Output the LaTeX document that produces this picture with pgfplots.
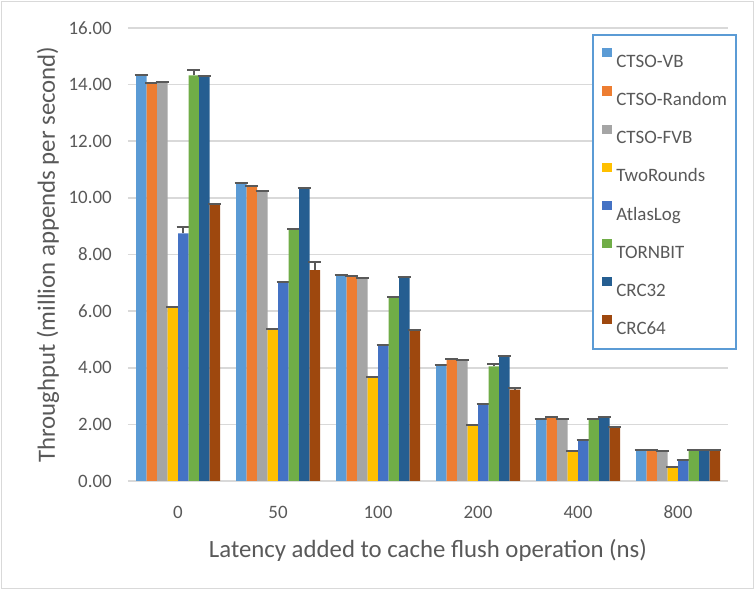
\documentclass[border=0pt]{standalone}
\usepackage{fontspec}
\setmainfont{Carlito}
\usepackage{pgfplots}
\pgfplotsset{compat=1.18}
\definecolor{c1}{HTML}{5B9BD5}
\definecolor{c2}{HTML}{ED7D31}
\definecolor{c3}{HTML}{A5A5A5}
\definecolor{c4}{HTML}{FFC000}
\definecolor{c5}{HTML}{4472C4}
\definecolor{c6}{HTML}{70AD47}
\definecolor{c7}{HTML}{255E91}
\definecolor{c8}{HTML}{9E480E}
\definecolor{txt}{HTML}{595959}
\definecolor{gridc}{HTML}{D9D9D9}
\definecolor{legblue}{HTML}{5B9BD5}
\begin{document}
\begin{tikzpicture}
\useasboundingbox (0,0) rectangle (567pt,444pt);
\draw[gridc, line width=1pt] (1.2pt,2.5pt) rectangle (565pt,442.8pt);
\begin{axis}[
  at={(96pt,83.25pt)}, anchor=south west,
  scale only axis, width=450pt, height=339.75pt,
  ybar=0pt, bar width=7.875pt,
  xmin=-0.5, xmax=5.5, ymin=0, ymax=16,
  xtick={0,...,5}, xticklabels={0,50,100,200,400,800},
  ytick={0,2,...,16},
  axis line style={draw=none},
  major tick length=0pt,
  ymajorgrids, grid style={gridc, line width=1.3pt},
  /pgf/number format/assume math mode=true,
  ticklabel style={font=\fontsize{14.2}{17}\selectfont, text=txt},
  yticklabel style={/pgf/number format/fixed, /pgf/number format/fixed zerofill, /pgf/number format/precision=2, inner sep=0pt, anchor=east, xshift=-12pt},
  xticklabel style={inner sep=0pt, anchor=north, yshift=-18.5pt},
  xlabel={Latency added to cache flush operation (ns)},
  ylabel={Throughput (million appends per second)},
  label style={font=\fontsize{18.6}{22}\selectfont, text=txt},
  xlabel style={at={(axis description cs:0.5,-0.1523)}, anchor=center},
  ylabel style={at={(axis description cs:-0.1333,0.5)}, anchor=center},
  legend style={at={(axis description cs:0.7733,0.9868)}, anchor=north west,
    draw=legblue, line width=1.5pt, fill=white, inner xsep=7pt, inner ysep=10pt,
    row sep=13.2pt,
    nodes={inner sep=0pt, font=\fontsize{14.2}{17}\selectfont, text=txt, text height=14pt, text depth=1pt},
    /tikz/every odd column/.style={column sep=3pt}},
  legend cell align=left,
  legend image code/.code={\fill[#1] (0pt,1.1pt) rectangle (7.5pt,7.9pt);},
  error bars/y dir=plus, error bars/y explicit,
  error bars/error bar style={line width=1.5pt, color=txt},
  error bars/error mark options={rotate=90, mark size=4.9pt, line width=1.5pt, color=txt},
]
\addplot[fill=c1, draw=none] coordinates {(0,14.33) +- (0,0) (1,10.53) +- (0,0) (2,7.27) +- (0,0) (3,4.08) +- (0,0) (4,2.19) +- (0,0) (5,1.11) +- (0,0)};
\addplot[fill=c2, draw=none] coordinates {(0,14.06) +- (0,0) (1,10.42) +- (0,0) (2,7.24) +- (0,0) (3,4.32) +- (0,0) (4,2.25) +- (0,0) (5,1.10) +- (0,0)};
\addplot[fill=c3, draw=none] coordinates {(0,14.09) +- (0,0) (1,10.26) +- (0,0) (2,7.18) +- (0,0) (3,4.26) +- (0,0) (4,2.19) +- (0,0) (5,1.06) +- (0,0)};
\addplot[fill=c4, draw=none] coordinates {(0,6.14) +- (0,0) (1,5.37) +- (0,0) (2,3.66) +- (0,0) (3,1.98) +- (0,0) (4,1.06) +- (0,0) (5,0.51) +- (0,0)};
\addplot[fill=c5, draw=none] coordinates {(0,8.75) +- (0,0.23) (1,7.03) +- (0,0) (2,4.82) +- (0,0) (3,2.71) +- (0,0) (4,1.45) +- (0,0) (5,0.73) +- (0,0)};
\addplot[fill=c6, draw=none] coordinates {(0,14.33) +- (0,0.2) (1,8.91) +- (0,0) (2,6.49) +- (0,0) (3,4.05) +- (0,0.09) (4,2.19) +- (0,0) (5,1.08) +- (0,0)};
\addplot[fill=c7, draw=none] coordinates {(0,14.29) +- (0,0) (1,10.35) +- (0,0) (2,7.20) +- (0,0) (3,4.41) +- (0,0) (4,2.25) +- (0,0) (5,1.11) +- (0,0)};
\addplot[fill=c8, draw=none] coordinates {(0,9.80) +- (0,0) (1,7.45) +- (0,0.3) (2,5.33) +- (0,0) (3,3.23) +- (0,0.06) (4,1.91) +- (0,0) (5,1.08) +- (0,0)};
\legend{CTSO-VB,CTSO-Random,CTSO-FVB,TwoRounds,AtlasLog,TORNBIT,CRC32,CRC64}
\end{axis}
\end{tikzpicture}
\end{document}
